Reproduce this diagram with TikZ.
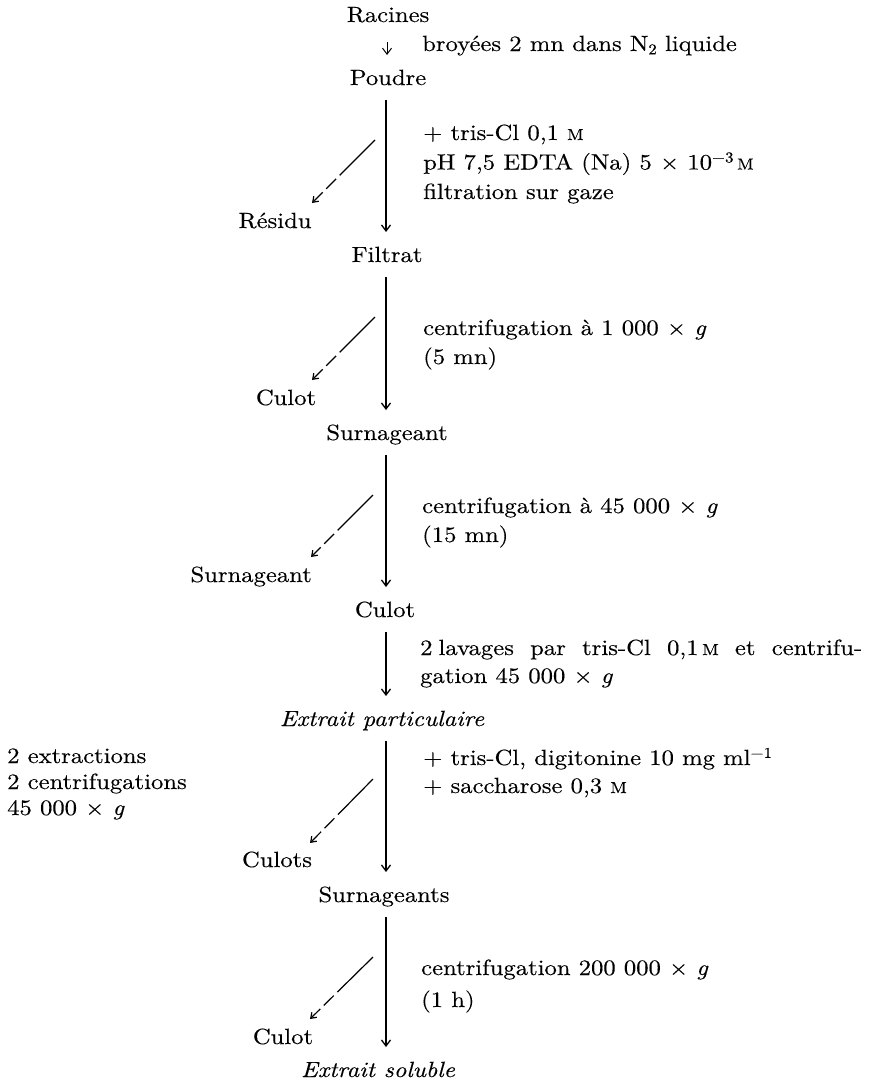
\documentclass[tikz,border=0pt]{standalone}
\usepackage{fontspec}
\setmainfont{lmroman10}[Extension=.otf, UprightFont=*-regular, ItalicFont=*-italic, BoldFont=*-bold, FakeStretch=1.12, FakeBold=0.3]
\usetikzlibrary{arrows.meta}
\newcommand\Mo{{\fontsize{16}{16}\selectfont M}}
\newcommand\upx[1]{\raisebox{0.75ex}{\fontsize{15}{15}\selectfont #1}}
\newcommand\dnx[1]{\raisebox{-0.35ex}{\fontsize{15}{15}\selectfont #1}}
\begin{document}
\begin{tikzpicture}[x=1pt,y=-1pt,
  lbl/.style={font=\fontsize{22}{29}\selectfont, inner sep=0pt, anchor=base},
  blk/.style={lbl, anchor=base west, align=left},
  vline/.style={line width=1.3pt, -{Straight Barb[length=6pt,width=9pt]}, shorten <=15pt, shorten >=30pt},
  dline/.style={line width=1.2pt, dash pattern=on 50pt off 5pt on 14pt off 5pt, -{Straight Barb[length=5pt,width=7pt]}}]
\useasboundingbox (0,0) rectangle (879,1082);
\coordinate (axis) at (386,0);

% main column
\node[lbl] (rac) at (388,22) {Racines};
\node[lbl] (pou) at (388,85) {Poudre};
\node[lbl] (fil) at (387,262) {Filtrat};
\node[lbl] (sur1) at (387,440) {Surnageant};
\node[lbl] (cul2) at (385,617) {Culot};
\node[lbl] (ep) at (382,726) {\itshape Extrait particulaire};
\node[lbl] (surs) at (384,902) {Surnageants};
\node[lbl] (es) at (378,1077) {\itshape Extrait soluble};

% side products
\node[lbl] (res) at (275,228) {Résidu};
\node[lbl] (cul1) at (286,405) {Culot};
\node[lbl, anchor=base east] (surL) at (312,582) {Surnageant};
\node[lbl] (culs) at (277,867) {Culots};
\node[lbl] (cul3) at (283,1044) {Culot};

% right-hand labels (a multi-line node's base is its last line)
\node[blk] (l0) at (422,51) {broyées 2 mn dans N\dnx{2} liquide};
\node[blk, font=\fontsize{22}{29.5}\selectfont] (l1) at (423,199) {+ tris-Cl 0,1 \Mo\\pH 7,5 EDTA (Na) 5 × 10\upx{−3}\,\Mo\\filtration sur gaze};
\node[blk] (l2) at (423,364) {centrifugation à 1 000 × \textit{g}\\(5 mn)};
\node[blk] (l3) at (422,542) {centrifugation à 45 000 × \textit{g}\\(15 mn)};
\node[blk, font=\fontsize{22}{28}\selectfont] (l4) at (420,683) {\makebox[442pt][s]{2\hspace{6pt}lavages par tris-Cl 0,1\,\Mo{} et centrifu-}\\gation 45 000 × \textit{g}};
\node[blk, font=\fontsize{22}{28}\selectfont] (l5) at (423,793) {+ tris-Cl, digitonine 10 mg ml\upx{−1}\\+ saccharose 0,3 \Mo};
\node[blk, font=\fontsize{22}{32}\selectfont] (l6) at (421,1007) {centrifugation 200 000 × \textit{g}\\(1 h)};
\node[blk, font=\fontsize{22}{26}\selectfont] (lft) at (7,815) {2 extractions\\2 centrifugations\\45 000 × \textit{g}};

% vertical arrows
\draw[vline, line width=1pt, shorten <=20pt] ([xshift=1pt]rac.base -| axis) -- ([xshift=1pt]pou.base -| axis);
\draw[vline] (pou.base -| axis) -- (fil.base -| axis);
\draw[vline] (fil.base -| axis) -- (sur1.base -| axis);
\draw[vline] (sur1.base -| axis) -- (cul2.base -| axis);
\draw[vline] (cul2.base -| axis) -- (ep.base -| axis);
\draw[vline] (ep.base -| axis) -- (surs.base -| axis);
\draw[vline] (surs.base -| axis) -- (es.base -| axis);

% diagonal (dashed) arrows to side products
\coordinate (d1a) at (375,140); \coordinate (d1b) at (312,203);
\coordinate (d2a) at (375,317); \coordinate (d2b) at (312,380);
\coordinate (d3a) at (373,495); \coordinate (d3b) at (311,557);
\coordinate (d4a) at (373,779); \coordinate (d4b) at (310,843);
\coordinate (d5a) at (373,957); \coordinate (d5b) at (310,1019);
\draw[dline] (d1a) -- (d1b);
\draw[dline] (d2a) -- (d2b);
\draw[dline] (d3a) -- (d3b);
\draw[dline] (d4a) -- (d4b);
\draw[dline] (d5a) -- (d5b);
\end{tikzpicture}
\end{document}
